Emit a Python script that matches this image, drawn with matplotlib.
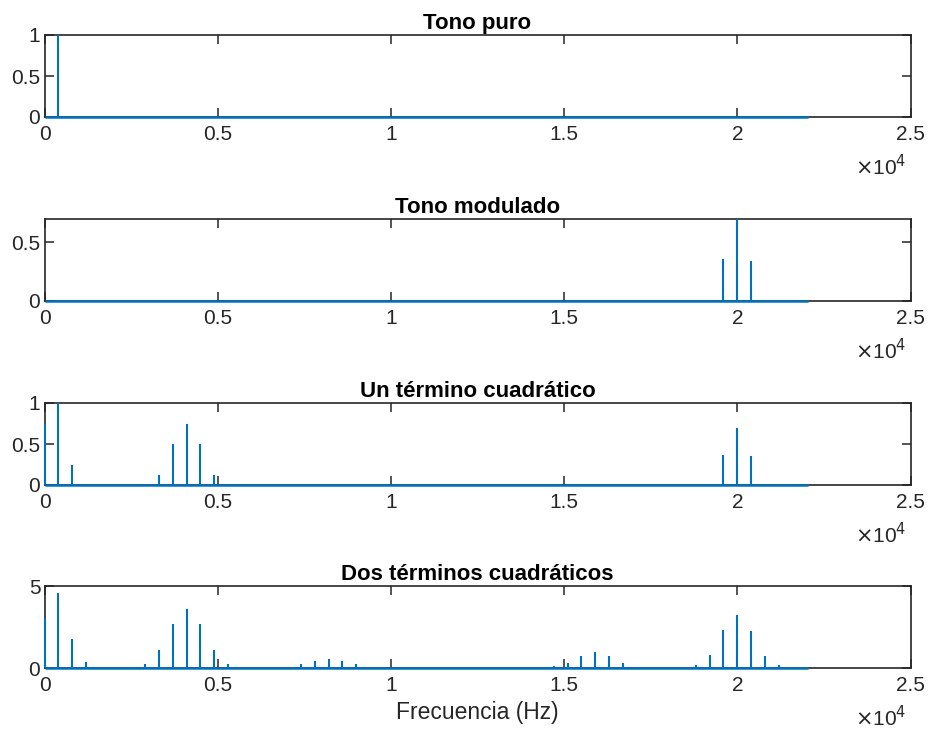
import matplotlib
matplotlib.use("Agg")
import matplotlib.pyplot as plt
from matplotlib.transforms import offset_copy

plt.rcParams['font.family'] = ['Liberation Sans', 'DejaVu Sans']

fs_half = 22050  # Nyquist (fs = 44100 Hz)
line_color = '#0072BD'
axis_color = '#262626'

# Spectral lines (Hz, magnitude) for each signal
puro_f = [400]
puro_a = [1.0]

mod_f = [19600, 20000, 20400]
mod_a = [0.355, 0.70, 0.345]

cuad1_f = [0, 400, 800, 3300, 3700, 4100, 4500, 4900, 19600, 20000, 20400]
cuad1_a = [0.75, 1.0, 0.25, 0.125, 0.5, 0.75, 0.5, 0.125, 0.36, 0.70, 0.35]

cuad2_f = [0, 400, 800, 1200, 1600,
           2500, 2900, 3300, 3700, 4100, 4500, 4900, 5300, 5700,
           7000, 7400, 7800, 8200, 8600, 9000, 9400,
           14700, 15100, 15500, 15900, 16300, 16700, 17100,
           18800, 19200, 19600, 20000, 20400, 20800, 21200]
cuad2_a = [3.07, 4.56, 1.79, 0.38, 0.06,
           0.04, 0.26, 1.10, 2.69, 3.59, 2.69, 1.08, 0.26, 0.04,
           0.08, 0.22, 0.42, 0.52, 0.42, 0.22, 0.08,
           0.10, 0.32, 0.76, 0.98, 0.76, 0.30, 0.06,
           0.18, 0.82, 2.33, 3.25, 2.25, 0.76, 0.16]

titles = ['Tono puro', 'Tono modulado', 'Un término cuadrático',
          'Dos términos cuadráticos']
series = [(puro_f, puro_a), (mod_f, mod_a), (cuad1_f, cuad1_a),
          (cuad2_f, cuad2_a)]
ylims = [(0, 1), (0, 0.70), (0, 1), (0, 5)]
yticks = [[0, 0.5, 1], [0, 0.5], [0, 0.5, 1], [0, 5]]
ytick_labels = [['0', '0.5', '1'], ['0', '0.5'], ['0', '0.5', '1'], ['0', '5']]

xticks = [0, 5000, 10000, 15000, 20000, 25000]
xtick_labels = ['0', '0.5', '1', '1.5', '2', '2.5']

W, H = 930, 731
fig = plt.figure(figsize=(W / 100, H / 100), dpi=100)

# pixel boxes (top, bottom) of the four axes
boxes = [(35, 117), (219, 301), (403, 485), (586, 668)]
left_px, right_px = 44.5, 910.5

for (top, bot), title, (f, a), yl, yt, ytl in zip(boxes, titles, series,
                                                  ylims, yticks, ytick_labels):
    ax = fig.add_axes([left_px / W, 1 - bot / H, (right_px - left_px) / W,
                       (bot - top) / H])
    ax.plot([0, fs_half], [0, 0], color=line_color, lw=1.8,
            solid_capstyle='butt', zorder=3, clip_on=False)
    ax.vlines(f, 0, a, colors=line_color, lw=1.5, zorder=3, clip_on=False)
    ax.set_xlim(0, 25000)
    ax.set_ylim(*yl)
    ax.set_xticks(xticks)
    ax.set_xticklabels(xtick_labels)
    ax.set_yticks(yt)
    ax.set_yticklabels(ytl)
    ax.tick_params(direction='in', length=6.5, width=1.1, colors=axis_color,
                   labelcolor=axis_color, labelsize=15, pad=6,
                   top=True, right=True)
    ax.tick_params(axis='y', pad=3)
    for sp in ax.spines.values():
        sp.set_color(axis_color)
        sp.set_linewidth(1.2)
        sp.set_zorder(2)
    ax.set_title(title, fontsize=16, fontweight='bold', pad=4)
    tr = offset_copy(ax.transAxes, fig=fig, x=-4, y=-58, units='dots')
    ax.text(1.0, 0.0, r'$\times$10$^4$', transform=tr, ha='right',
            va='baseline', fontsize=15, color=axis_color)
    last = ax

last.set_xlabel('Frecuencia (Hz)', fontsize=16.5, color=axis_color,
                labelpad=4)

fig.savefig('out.png', dpi=100)
